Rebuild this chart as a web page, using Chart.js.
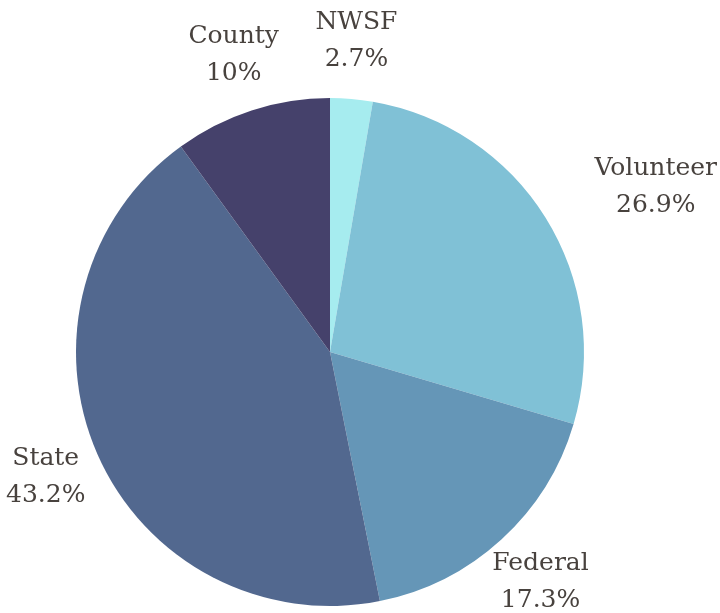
<!DOCTYPE html>
<html>
<head>
<meta charset="utf-8">
<script src="https://cdn.jsdelivr.net/npm/chart.js@4.4.0/dist/chart.umd.min.js"></script>
<style>
  html, body { margin: 0; padding: 0; background: #fff; }
  #wrap { width: 720px; height: 613px; }
</style>
</head>
<body>
<div id="wrap"><canvas id="pie"></canvas></div>
<script>
const labels = ['NWSF', 'Volunteer', 'Federal', 'State', 'County'];
const shares = [2.7, 26.9, 17.3, 43.2, 10];
const colors = ['#a6ecef', '#80c1d6', '#6596b7', '#52688f', '#45416b'];

// labels placed just outside each slice, clamped to the canvas
const outsideLabels = {
  id: 'outsideLabels',
  afterDraw(chart) {
    const ctx = chart.ctx;
    const meta = chart.getDatasetMeta(0);
    const font = '25px "DejaVu Serif", serif';
    const lineH = 37;
    ctx.save();
    ctx.font = font;
    ctx.fillStyle = '#48423e';
    ctx.textBaseline = 'middle';
    meta.data.forEach((arc, i) => {
      const mid = (arc.startAngle + arc.endAngle) / 2;
      const r = arc.outerRadius + 58;
      const px = arc.x + Math.cos(mid) * r;
      const py = arc.y + Math.sin(mid) * r;
      const lines = [labels[i], shares[i] + '%'];
      const w = Math.max(...lines.map(t => ctx.measureText(t).width));
      let left = px - w / 2;
      const c = Math.cos(mid);
      if (c > 0.7) left = px;
      else if (c < -0.7) left = px - w;
      left = Math.max(6, Math.min(chart.width - 3 - w, left));
      ctx.textAlign = 'center';
      lines.forEach((t, k) => {
        ctx.fillText(t, left + w / 2, py + (k - 0.5) * lineH);
      });
    });
    ctx.restore();
  }
};

new Chart(document.getElementById('pie'), {
  type: 'pie',
  data: {
    labels: labels,
    datasets: [{
      data: shares,
      backgroundColor: colors,
      borderWidth: 0
    }]
  },
  options: {
    responsive: true,
    maintainAspectRatio: false,
    animation: false,
    layout: {
      padding: { left: 76, right: 136, top: 98, bottom: 7 }
    },
    plugins: {
      legend: { display: false },
      tooltip: { enabled: false }
    }
  },
  plugins: [outsideLabels]
});
</script>
</body>
</html>
